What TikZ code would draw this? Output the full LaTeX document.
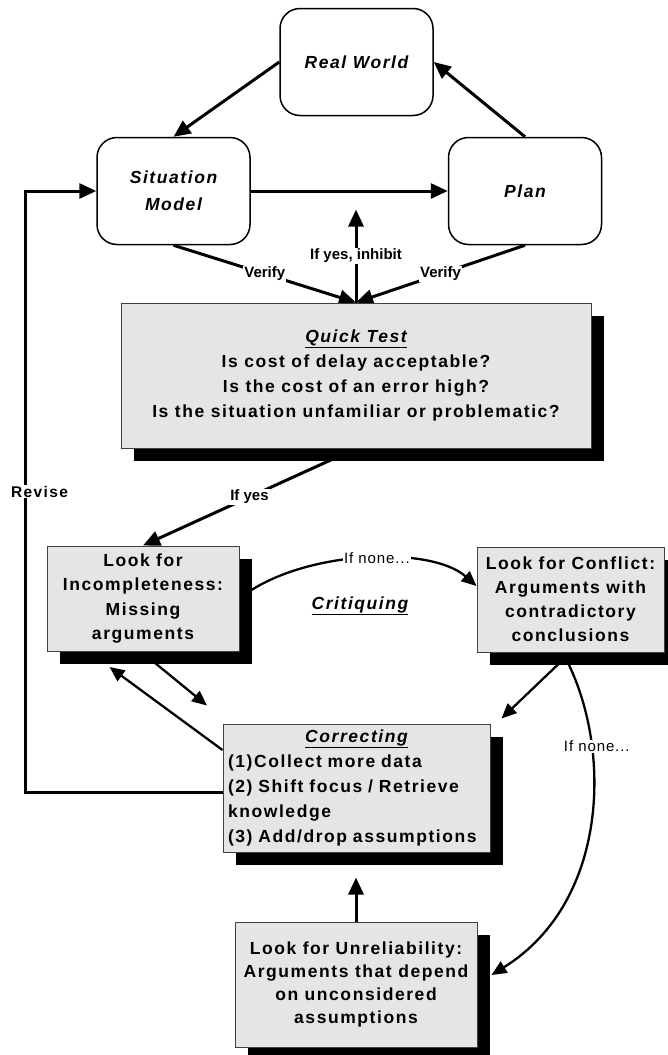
\documentclass[tikz,border=0pt]{standalone}
\usepackage{fontspec}
\setmainfont{Liberation Sans}
\newfontfamily\bxfont[LetterSpace=9]{Liberation Sans}
\newfontfamily\lbfont{Liberation Sans}
\newfontfamily\nnfont[LetterSpace=6]{Liberation Sans}
\usetikzlibrary{arrows.meta,shadows}
\definecolor{boxgray}{RGB}{229,229,229}
\pgfdeclarelayer{bg}
\pgfsetlayers{bg,main}
\begin{document}
\begin{tikzpicture}[x=1pt,y=-1pt,
  rbox/.style={draw=black, line width=1.5pt, fill=white, rounded corners=20pt,
    minimum width=153pt, minimum height=107pt, align=center,
    font=\bxfont\bfseries\itshape\fontsize{17.5}{27}\selectfont},
  gbox/.style={draw=black!75, line width=1pt, fill=boxgray, inner sep=2pt,
    drop shadow={shadow xshift=13pt, shadow yshift=-13pt, fill=black, opacity=1},
    align=center, font=\bxfont\bfseries\fontsize{17.5}{25}\selectfont},
  conn/.style={line width=3pt, -{Triangle[length=17pt,width=15pt]}},
  sconn/.style={line width=2.3pt, -{Triangle[length=15pt,width=13pt]}},
  lbl/.style={fill=white, inner sep=1pt, font=\lbfont\bfseries\fontsize{15}{17}\selectfont},
  nlbl/.style={fill=white, inner sep=1pt, font=\nnfont\fontsize{15}{17}\selectfont},
  rlbl/.style={fill=white, inner sep=1pt, font=\bxfont\bfseries\fontsize{15.5}{18}\selectfont},
  ttl/.style={font=\bxfont\bfseries\itshape\fontsize{17.5}{20}\selectfont}
]
\useasboundingbox (0,0) rectangle (668,1055);

% top rounded boxes
\node[rbox] (rw) at (356.5,62) {Real World};
\node[rbox] (sm) at (173.5,191) {Situation\\Model};
\node[rbox] (pl) at (525,191) {Plan};

% grey boxes
\node[gbox, minimum width=470pt, minimum height=145pt] (qt) at (356,375.5)
  {\underline{\itshape Quick Test}\\Is cost of delay acceptable?\\Is the cost of an error high?\\Is the situation unfamiliar or problematic?};
\node[gbox, minimum width=192pt, minimum height=105pt,
  font=\bxfont\bfseries\fontsize{17.5}{24.5}\selectfont] (ic) at (143,598.5)
  {Look for\\Incompleteness:\\Missing\\arguments};
\node[gbox, minimum width=187pt, minimum height=105pt,
  font=\bxfont\bfseries\fontsize{17.5}{24}\selectfont] (cf) at (570.5,599.5)
  {Look for Conflict:\\Arguments with\\contradictory\\conclusions};
\node[gbox, text width=257pt, inner xsep=5pt, minimum height=128pt, align=left] (cr) at (356.5,788)
  {\makebox[\linewidth][c]{\itshape\underline{Correcting}}\\(1)Collect more data\\(2) Shift focus / Retrieve\\knowledge\\(3) Add/drop assumptions};
\node[gbox, minimum width=242pt, minimum height=125pt,
  font=\bxfont\bfseries\fontsize{17.5}{23}\selectfont] (ur) at (356,984.5)
  {Look for Unreliability:\\Arguments that depend\\on unconsidered\\assumptions};

\node[ttl] (crit) at (360,606) {\underline{Critiquing}};

\begin{pgfonlayer}{bg}
\draw[conn] (rw.west) -- (sm.north);
\draw[conn] (pl.north) -- (rw.east);
\draw[conn] (sm.east) -- (pl.west);
\draw[conn] (qt.north) -- node[lbl, pos=0.5] {If yes, inhibit} ++(0,-93);
\draw[conn] (sm.south) -- node[lbl] {Verify} (qt.north);
\draw[conn] (pl.south) -- node[lbl] {Verify} (qt.north);
\draw[conn] (qt.south) -- node[lbl] {If yes} (ic.north);
\draw[conn] ([yshift=-4pt]cr.west) -- ++(-197,0) |- node[rlbl, pos=0.25, xshift=14pt] {Revise} (sm.west);
\draw[sconn] (ic.east) .. controls (300,550) and (430,545) .. node[nlbl, pos=0.55] {If none...} ([yshift=13.5pt]cf.west);
\draw[sconn] (cf.south) -- ++(-69,66);
\draw[sconn] ([xshift=-8pt]cf.south) .. controls (612,740) and (612,900) .. node[nlbl, pos=0.3, xshift=5pt] {If none...} ([xshift=14pt,yshift=9.5pt]ur.east);
\draw[sconn] ([xshift=-2pt]ic.south) -- ++(66,54);
\draw[sconn] ([yshift=38pt]cr.west) -- ++(-113,-83);
\draw[conn] (ur.north) -- ++(0,-44);
\end{pgfonlayer}
\end{tikzpicture}
\end{document}
